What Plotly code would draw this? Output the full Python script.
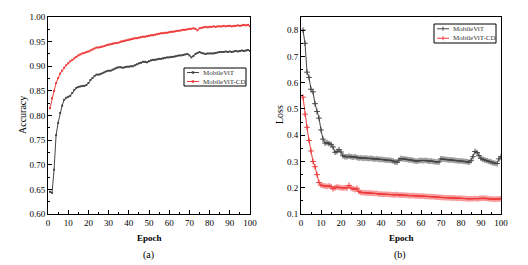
import plotly.graph_objects as go

epochs = list(range(1, 101))

acc_mobilevit = [
    0.645, 0.643, 0.690, 0.760, 0.785, 0.805, 0.820, 0.832, 0.836, 0.838,
    0.840, 0.846, 0.852, 0.856, 0.858, 0.859, 0.860, 0.860, 0.862, 0.866,
    0.872, 0.876, 0.880, 0.883, 0.883, 0.884, 0.886, 0.888, 0.890, 0.891,
    0.891, 0.893, 0.895, 0.897, 0.898, 0.898, 0.897, 0.898, 0.899, 0.899,
    0.900, 0.900, 0.902, 0.904, 0.906, 0.907, 0.909, 0.909, 0.908, 0.910,
    0.912, 0.913, 0.913, 0.914, 0.915, 0.915, 0.916, 0.917, 0.918, 0.918,
    0.919, 0.919, 0.920, 0.921, 0.922, 0.922, 0.923, 0.924, 0.925, 0.922,
    0.918, 0.921, 0.925, 0.927, 0.929, 0.927, 0.926, 0.925, 0.926, 0.926,
    0.926, 0.926, 0.927, 0.928, 0.929, 0.929, 0.929, 0.930, 0.929, 0.930,
    0.929, 0.930, 0.931, 0.930, 0.931, 0.932, 0.931, 0.932, 0.933, 0.931,
]

acc_mobilevit_cd = [
    0.815, 0.835, 0.850, 0.866, 0.876, 0.885, 0.891, 0.897, 0.902, 0.906,
    0.910, 0.913, 0.916, 0.919, 0.922, 0.924, 0.926, 0.927, 0.929, 0.930,
    0.932, 0.934, 0.936, 0.938, 0.938, 0.939, 0.940, 0.941, 0.943, 0.944,
    0.945, 0.946, 0.947, 0.947, 0.948, 0.950, 0.951, 0.952, 0.953, 0.954,
    0.955, 0.956, 0.957, 0.957, 0.958, 0.959, 0.960, 0.960, 0.961, 0.962,
    0.963, 0.963, 0.964, 0.965, 0.966, 0.967, 0.967, 0.968, 0.968, 0.969,
    0.970, 0.970, 0.971, 0.972, 0.972, 0.973, 0.974, 0.974, 0.975, 0.976,
    0.976, 0.977, 0.976, 0.973, 0.977, 0.978, 0.979, 0.980, 0.979, 0.980,
    0.980, 0.981, 0.980, 0.981, 0.981, 0.981, 0.982, 0.981, 0.982, 0.982,
    0.981, 0.982, 0.982, 0.983, 0.982, 0.983, 0.984, 0.983, 0.984, 0.981,
]

loss_mobilevit = [
    0.800, 0.750, 0.640, 0.620, 0.575, 0.565, 0.520, 0.490, 0.465, 0.420,
    0.385, 0.370, 0.372, 0.368, 0.365, 0.355, 0.335, 0.338, 0.345, 0.336,
    0.322, 0.318, 0.318, 0.320, 0.318, 0.316, 0.318, 0.315, 0.313, 0.314,
    0.312, 0.313, 0.312, 0.311, 0.312, 0.310, 0.309, 0.310, 0.308, 0.308,
    0.307, 0.306, 0.305, 0.305, 0.304, 0.302, 0.298, 0.297, 0.305, 0.311,
    0.310, 0.309, 0.308, 0.306, 0.306, 0.304, 0.302, 0.301, 0.303, 0.304,
    0.303, 0.304, 0.303, 0.301, 0.302, 0.300, 0.299, 0.298, 0.298, 0.310,
    0.309, 0.308, 0.307, 0.306, 0.306, 0.305, 0.304, 0.303, 0.302, 0.302,
    0.301, 0.300, 0.299, 0.297, 0.303, 0.318, 0.338, 0.334, 0.322, 0.312,
    0.308, 0.305, 0.303, 0.300, 0.298, 0.295, 0.293, 0.292, 0.310, 0.318,
]

loss_mobilevit_cd = [
    0.545, 0.480, 0.430, 0.380, 0.340, 0.300, 0.280, 0.250, 0.220, 0.210,
    0.208, 0.206, 0.205, 0.207, 0.204, 0.196, 0.200, 0.203, 0.201, 0.200,
    0.199, 0.200, 0.199, 0.209, 0.199, 0.196, 0.193, 0.198, 0.186, 0.182,
    0.181, 0.181, 0.180, 0.180, 0.179, 0.179, 0.178, 0.178, 0.176, 0.176,
    0.175, 0.175, 0.175, 0.174, 0.174, 0.173, 0.173, 0.174, 0.172, 0.172,
    0.172, 0.171, 0.171, 0.170, 0.170, 0.170, 0.169, 0.169, 0.168, 0.168,
    0.168, 0.167, 0.167, 0.166, 0.166, 0.166, 0.165, 0.164, 0.164, 0.163,
    0.163, 0.162, 0.162, 0.162, 0.161, 0.161, 0.161, 0.160, 0.160, 0.160,
    0.159, 0.159, 0.158, 0.158, 0.158, 0.158, 0.159, 0.158, 0.159, 0.160,
    0.160, 0.160, 0.159, 0.158, 0.157, 0.157, 0.156, 0.157, 0.157, 0.158,
]

series_names = ["MobileViT", "MobileViT-CD"]
panel_labels = ["(a)", "(b)"]
x_title = "Epoch"
y_titles = ["Accuracy", "Loss"]

W, H = 528, 265
GRAY = "#444444"
RED = "#ee3a3a"
COLORS = [GRAY, RED]
FONT = "Liberation Serif"


def px(x):
    return x / W


def py(y):
    return 1 - y / H


fig = go.Figure()

# Accuracy panel
for vals, name, col in zip([acc_mobilevit, acc_mobilevit_cd], series_names, COLORS):
    fig.add_trace(go.Scatter(x=epochs, y=vals, name=name, mode="lines+markers", showlegend=False,
                             line=dict(color=col, width=1), marker=dict(symbol="square", size=2, color=col),
                             xaxis="x", yaxis="y"))
# Loss panel
for vals, name, col in zip([loss_mobilevit, loss_mobilevit_cd], series_names, COLORS):
    fig.add_trace(go.Scatter(x=epochs, y=vals, name=name, mode="lines+markers", showlegend=False,
                             line=dict(color=col, width=1),
                             marker=dict(symbol="cross-thin", size=4, color=col, line=dict(color=col, width=1)),
                             xaxis="x2", yaxis="y2"))

axis_common = dict(showline=True, linecolor="black", linewidth=1, mirror=True, showgrid=False,
                   zeroline=False, ticks="inside", ticklen=4, tickwidth=1, tickcolor="black",
                   automargin=False,
                   tickfont=dict(family=FONT, size=9, color="black"))

ydom = [py(214), py(17)]

shapes = []
annotations = []


def label(text, x, y, size=10, angle=0):
    annotations.append(dict(text=text, x=px(x), y=py(y), xref="paper", yref="paper", showarrow=False,
                            textangle=angle, font=dict(family=FONT, size=size, color="black"),
                            xanchor="center", yanchor="middle"))


label(panel_labels[0], 148, 255)
label(panel_labels[1], 400, 255)
label("<b>" + x_title + "</b>", 149, 238, size=9)
label("<b>" + x_title + "</b>", 401, 238, size=9)
label(y_titles[0], 22, 115, angle=-90)
label(y_titles[1], 279, 115, angle=-90)


def add_legend(x0, y0, x1, y1, marker):
    shapes.append(dict(type="rect", xref="paper", yref="paper", x0=px(x0), x1=px(x1), y0=py(y1), y1=py(y0),
                       line=dict(color="black", width=1), fillcolor="white", layer="above"))
    rowh = (y1 - y0) / 2
    for i, (name, col) in enumerate(zip(series_names, COLORS)):
        yc = y0 + rowh * (i + 0.5)
        shapes.append(dict(type="line", xref="paper", yref="paper", x0=px(x0 + 3), x1=px(x0 + 15),
                           y0=py(yc), y1=py(yc), line=dict(color=col, width=1), layer="above"))
        xm = x0 + 9
        if marker == "square":
            shapes.append(dict(type="rect", xref="paper", yref="paper", x0=px(xm - 1.2), x1=px(xm + 1.2),
                               y0=py(yc + 1.2), y1=py(yc - 1.2), line=dict(color=col, width=0),
                               fillcolor=col, layer="above"))
        else:
            shapes.append(dict(type="line", xref="paper", yref="paper", x0=px(xm), x1=px(xm),
                               y0=py(yc + 2), y1=py(yc - 2), line=dict(color=col, width=1), layer="above"))
        annotations.append(dict(text=name, x=px(x0 + 17), y=py(yc), xref="paper", yref="paper",
                                showarrow=False, xanchor="left", yanchor="middle",
                                font=dict(family=FONT, size=7, color="#333333")))


add_legend(184, 68, 246, 86, "square")
add_legend(434, 24, 496, 43, "cross")

fig.update_layout(
    width=W, height=H,
    margin=dict(l=0, r=0, t=0, b=0),
    paper_bgcolor="white", plot_bgcolor="white",
    font=dict(family=FONT, size=9, color="black"),
    showlegend=False,
    xaxis=dict(domain=[px(48), px(250)], range=[0, 100], dtick=10, anchor="y",
               minor=dict(ticks="inside", dtick=5, ticklen=2, tickcolor="black"),
               **axis_common),
    yaxis=dict(domain=ydom, range=[0.60, 1.00], dtick=0.05, tickformat=".2f", anchor="x",
               minor=dict(ticks="inside", dtick=0.025, ticklen=2, tickcolor="black"),
               **axis_common),
    xaxis2=dict(domain=[px(301), px(501)], range=[0, 100], dtick=10, anchor="y2",
                minor=dict(ticks="inside", dtick=5, ticklen=2, tickcolor="black"),
                **axis_common),
    yaxis2=dict(domain=ydom, range=[0.1, 0.85], dtick=0.1, tickformat=".1f", anchor="x2",
                minor=dict(ticks="inside", dtick=0.05, ticklen=2, tickcolor="black"),
                **axis_common),
    shapes=shapes,
    annotations=annotations,
)

fig.write_html("out.html")
